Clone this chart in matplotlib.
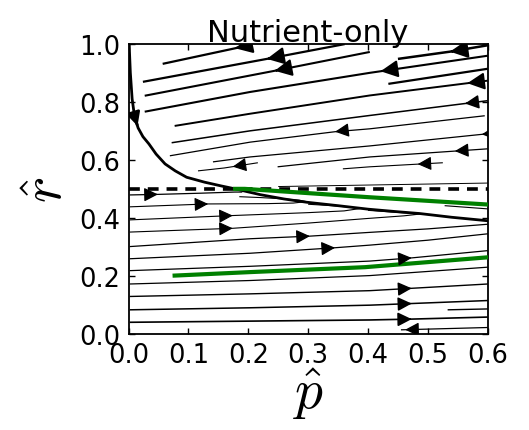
import numpy as np
import matplotlib.pyplot as plt
from matplotlib.patches import FancyArrowPatch

plt.rcParams['font.family'] = ['DejaVu Sans']
plt.rcParams['mathtext.fontset'] = 'cm'

# values (p-hat, r-hat)
r_eq = 0.5

# thick black separatrix
sep_p = [0.001, 0.003, 0.006, 0.010, 0.016, 0.024, 0.034, 0.046, 0.061, 0.078,
         0.097, 0.127, 0.155, 0.178, 0.22, 0.26, 0.297, 0.35, 0.40, 0.45, 0.486, 0.54, 0.60]
sep_r = [1.0, 0.90, 0.81, 0.75, 0.71, 0.68, 0.655, 0.62, 0.586, 0.562,
         0.54, 0.523, 0.51, 0.50, 0.48, 0.465, 0.454, 0.442, 0.43, 0.421, 0.415, 0.402, 0.39]
sep_arrow = 0.015

# green curves
green_hi_p = [0.178, 0.194, 0.403, 0.60]
green_hi_r = [0.50, 0.50, 0.471, 0.446]
green_lo_p = [0.077, 0.203, 0.395, 0.60]
green_lo_r = [0.201, 0.213, 0.23, 0.264]

# streamlines flowing towards smaller p
left_p = [
    [0.057, 0.206],
    [0.024, 0.231, 0.361],
    [0.027, 0.244, 0.403],
    [0.45, 0.537, 0.60],
    [0.027, 0.203, 0.403, 0.60],
    [0.434, 0.60],
    [0.077, 0.203, 0.403, 0.60],
    [0.072, 0.203, 0.403, 0.60],
    [0.069, 0.203, 0.345, 0.403, 0.595],
    [0.141, 0.203, 0.403, 0.60],
    [0.249, 0.403, 0.60],
    [0.358, 0.403, 0.525],
    [0.116, 0.16, 0.216],
    [0.25, 0.60],
    [0.528, 0.60],
    [0.455, 0.60],
]
left_r = [
    [0.931, 0.997],
    [0.869, 0.948, 0.999],
    [0.821, 0.907, 0.972],
    [0.948, 0.973, 0.995],
    [0.766, 0.834, 0.90, 0.959],
    [0.862, 0.914],
    [0.717, 0.759, 0.822, 0.873],
    [0.659, 0.70, 0.753, 0.804],
    [0.614, 0.661, 0.697, 0.707, 0.752],
    [0.593, 0.61, 0.648, 0.69],
    [0.576, 0.61, 0.638],
    [0.569, 0.576, 0.59],
    [0.562, 0.572, 0.59],
    [0.508, 0.52],
    [0.442, 0.431],
    [0.014, 0.022],
]
left_arrows = [0.178, 0.231, 0.244, 0.537, 0.421, None, 0.566, 0.562, 0.345,
               0.59, 0.545, 0.483, 0.174, None, None, 0.462]

# streamlines flowing towards larger p (listed in flow order, some turn back)
right_p = [
    [0.002, 0.05, 0.12, 0.178, 0.19],
    [0.002, 0.133, 0.23, 0.275, 0.297, 0.285, 0.255, 0.22, 0.185],
    [0.002, 0.174, 0.30, 0.36, 0.386, 0.37, 0.34, 0.30],
    [0.002, 0.174, 0.30, 0.40, 0.46, 0.486, 0.47, 0.44, 0.40],
    [0.002, 0.203, 0.303, 0.403, 0.50, 0.60],
    [0.002, 0.203, 0.345, 0.403, 0.50, 0.60],
    [0.002, 0.203, 0.403, 0.473, 0.60],
    [0.002, 0.203, 0.403, 0.60],
    [0.002, 0.203, 0.403, 0.60],
    [0.002, 0.203, 0.403, 0.60],
    [0.533, 0.60],
    [0.002, 0.203, 0.403, 0.473, 0.60],
]
right_r = [
    [0.479, 0.481, 0.485, 0.489, 0.489],
    [0.438, 0.448, 0.449, 0.451, 0.456, 0.461, 0.466, 0.47, 0.473],
    [0.393, 0.408, 0.418, 0.424, 0.432, 0.437, 0.442, 0.447],
    [0.351, 0.364, 0.382, 0.398, 0.407, 0.413, 0.416, 0.42, 0.426],
    [0.301, 0.328, 0.337, 0.35, 0.362, 0.378],
    [0.259, 0.278, 0.297, 0.306, 0.323, 0.345],
    [0.218, 0.233, 0.251, 0.262, 0.287],
    [0.172, 0.184, 0.201, 0.23],
    [0.129, 0.138, 0.149, 0.172],
    [0.083, 0.09, 0.099, 0.115],
    [0.083, 0.086],
    [0.04, 0.044, 0.048, 0.051, 0.058],
]
right_arrows = [0.049, 0.133, 0.174, 0.174, 0.303, 0.345, 0.473, None, 0.473, 0.473, None, 0.473]

# line widths of the streamlines
left_lw = [1.6, 1.6, 1.5, 1.8, 1.5, 1.6, 1.4, 1.1, 0.9, 0.9, 0.9, 0.8, 0.8, 0.7, 0.8, 0.9]
right_lw = [0.9, 0.8, 0.8, 0.8, 0.9, 0.9, 0.9, 0.9, 1.0, 1.1, 1.0, 1.2]


def add_arrow(ax, ps, rs, pa, sign, lw, size):
    for i in range(len(ps) - 1):
        lo, hi = sorted((ps[i], ps[i + 1]))
        if lo <= pa <= hi:
            t = (pa - ps[i]) / (ps[i + 1] - ps[i])
            ra = rs[i] + t * (rs[i + 1] - rs[i])
            dp = (ps[i + 1] - ps[i]) * sign
            dr = (rs[i + 1] - rs[i]) * sign
            break
    n = np.hypot(dp, dr)
    tail = (pa - 0.004 * dp / n, ra - 0.004 * dr / n)
    ax.add_patch(FancyArrowPatch(tail, (pa, ra), arrowstyle='-|>', mutation_scale=size,
                                 lw=lw, color='k', shrinkA=0, shrinkB=0, zorder=4))


fig = plt.figure(figsize=(5.29, 4.31), dpi=100)
ax = fig.add_axes([0.243, 0.223, 0.679, 0.673])

for ps, rs, pa, lw in zip(left_p, left_r, left_arrows, left_lw):
    ax.plot(ps, rs, color='k', lw=lw, solid_capstyle='butt')
    if pa is not None:
        add_arrow(ax, ps, rs, pa, -1, lw, 21 + 5 * (lw > 1.2))

for ps, rs, pa, lw in zip(right_p, right_r, right_arrows, right_lw):
    ax.plot(ps, rs, color='k', lw=lw, solid_capstyle='butt')
    if pa is not None:
        add_arrow(ax, ps, rs, pa, 1, lw, 21)

ax.axhline(r_eq, color='k', lw=2.6, dashes=(3, 2.2), zorder=3)
ax.plot(sep_p, sep_r, color='k', lw=2.0, zorder=3)
add_arrow(ax, sep_p, sep_r, sep_arrow, 1, 2.0, 20)
ax.plot(green_hi_p, green_hi_r, color='green', lw=3.0, zorder=3)
ax.plot(green_lo_p, green_lo_r, color='green', lw=3.0, zorder=3)

ax.set_xlim(0, 0.6)
ax.set_ylim(0, 1.0)
ax.set_xticks(np.arange(0, 0.61, 0.1))
ax.set_yticks(np.arange(0, 1.01, 0.2))
ax.tick_params(direction='in', top=True, right=True, length=4, width=1,
               labelsize=18.5, pad=6)
for s in ax.spines.values():
    s.set_linewidth(1.3)

ax.set_title('Nutrient-only', fontsize=22, pad=2)
ax.set_xlabel(r'$\hat{p}$', fontsize=40, labelpad=-2)
ax.set_ylabel(r'$\hat{r}$', fontsize=40, labelpad=4)

fig.savefig('out.png', dpi=100)
